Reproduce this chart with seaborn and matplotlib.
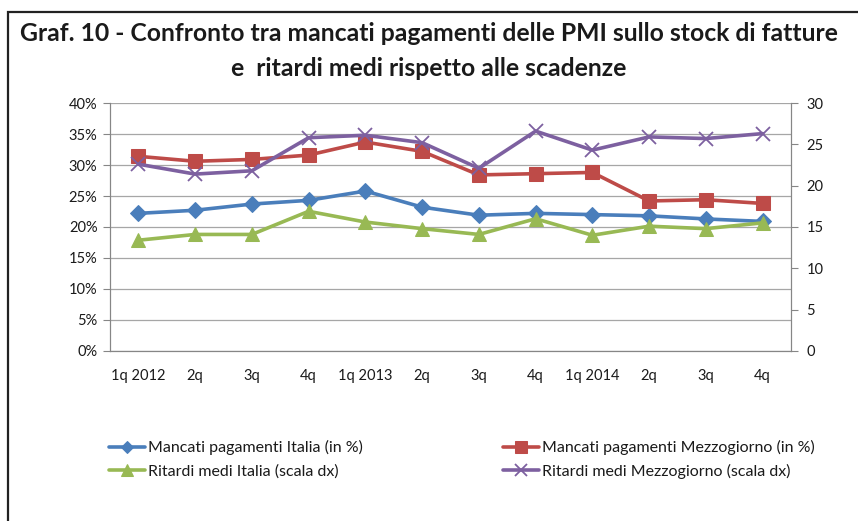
import numpy as np
import pandas as pd
import matplotlib
matplotlib.use("Agg")
import matplotlib.pyplot as plt
from matplotlib.patches import Rectangle
from matplotlib.ticker import FuncFormatter, FixedLocator
import seaborn as sns

# Data
quarters = ['1q 2012', '2q', '3q', '4q', '1q 2013', '2q', '3q', '4q',
            '1q 2014', '2q', '3q', '4q']
mancati_italia = [22.2, 22.7, 23.7, 24.3, 25.8, 23.2, 21.9, 22.2, 22.0, 21.8, 21.3, 20.9]
mancati_mezzogiorno = [31.4, 30.6, 30.9, 31.6, 33.7, 32.2, 28.4, 28.6, 28.8, 24.2, 24.4, 23.8]
ritardi_italia = [13.4, 14.1, 14.1, 16.9, 15.6, 14.8, 14.1, 16.0, 14.0, 15.1, 14.8, 15.5]
ritardi_mezzogiorno = [22.6, 21.4, 21.8, 25.8, 26.1, 25.2, 22.1, 26.6, 24.3, 25.9, 25.7, 26.3]

labels = ['Mancati pagamenti Italia (in %)', 'Mancati pagamenti Mezzogiorno (in %)',
          'Ritardi medi Italia (scala dx)', 'Ritardi medi Mezzogiorno (scala dx)']
colors = ['#4A7EBB', '#BE4B48', '#98B954', '#7D60A0']

sns.set_theme(style="white")
plt.rcParams['font.family'] = ['Lato', 'DejaVu Sans']

pos = np.arange(len(quarters))
df = pd.DataFrame({'pos': pos, 'mi': mancati_italia, 'mm': mancati_mezzogiorno,
                   'ri': ritardi_italia, 'rm': ritardi_mezzogiorno})

fig = plt.figure(figsize=(8.58, 5.21), dpi=100)
ax = fig.add_axes([0.1282, 0.3263, 0.9219 - 0.1282, 0.8023 - 0.3263])
ax2 = ax.twinx()

lw = 2.6
sns.lineplot(data=df, x='pos', y='mi', ax=ax, color=colors[0], lw=lw, marker='D',
             markersize=8, markeredgecolor=colors[0], label=labels[0], legend=False)
sns.lineplot(data=df, x='pos', y='mm', ax=ax, color=colors[1], lw=lw, marker='s',
             markersize=10, markeredgecolor=colors[1], label=labels[1], legend=False)
sns.lineplot(data=df, x='pos', y='ri', ax=ax2, color=colors[2], lw=lw, marker='^',
             markersize=10, markeredgecolor=colors[2], label=labels[2], legend=False)
sns.lineplot(data=df, x='pos', y='rm', ax=ax2, color=colors[3], lw=lw, marker='x',
             markersize=10, markeredgewidth=1.3, markeredgecolor=colors[3],
             label=labels[3], legend=False)

ax.set_xlim(-0.5, len(quarters) - 0.5)
ax.set_ylim(0, 40)
ax2.set_ylim(0, 30)
ax.set_yticks(np.arange(0, 41, 5))
ax.yaxis.set_major_formatter(FuncFormatter(lambda v, p: f"{int(v)}%"))
ax2.set_yticks(np.arange(0, 31, 5))

ax.set_xticks(pos)
ax.set_xticklabels(quarters)
ax.xaxis.set_minor_locator(FixedLocator(np.arange(-0.5, len(quarters), 1)))
ax.tick_params(axis='x', which='major', length=0, pad=13, labelsize=10.5, labelcolor='#1a1a1a')
ax.tick_params(axis='x', which='minor', length=5, color='#868686', width=0.8)
ax.tick_params(axis='y', length=5, color='#868686', width=0.8, labelsize=10.5,
               labelcolor='#1a1a1a', pad=4, left=True)
ax2.tick_params(axis='y', length=5, color='#868686', width=0.8, labelsize=10.5,
                labelcolor='#1a1a1a', pad=6, right=True)
ax.set_xlabel('')
ax.set_ylabel('')
ax2.set_ylabel('')

ax.grid(axis='y', color='#A6A6A6', lw=0.9)
ax.set_axisbelow(True)
for a in (ax, ax2):
    a.spines['top'].set_visible(False)
    for side in ('left', 'right', 'bottom'):
        a.spines[side].set_color('#868686')
        a.spines[side].set_linewidth(0.8)

fig.text(0.5, 0.936, 'Graf. 10 - Confronto tra mancati pagamenti delle PMI sullo stock di fatture',
         ha='center', va='center', fontsize=17.8, fontweight='bold', color='#1a1a1a')
fig.text(0.5, 0.869, 'e  ritardi medi rispetto alle scadenze',
         ha='center', va='center', fontsize=17.8, fontweight='bold', color='#1a1a1a')

h1, l1 = ax.get_legend_handles_labels()
h2, l2 = ax2.get_legend_handles_labels()
handles = [h1[0], h2[0], h1[1], h2[1]]
leg_labels = [l1[0], l2[0], l1[1], l2[1]]
fig.legend(handles, leg_labels, loc='center left', bbox_to_anchor=(0.110, 0.118),
           ncol=2, frameon=False, fontsize=11.5, handlelength=2.3, handletextpad=0.15,
           columnspacing=8.75, labelspacing=0.55, markerscale=0.8,
           labelcolor='#1a1a1a')

# chart frame (left and top edges visible)
fig.patches.append(Rectangle((0.009, -0.1), 1.2, 1.077, transform=fig.transFigure,
                             fill=False, ec='#222222', lw=1.6))

fig.savefig('out.png', dpi=100)
